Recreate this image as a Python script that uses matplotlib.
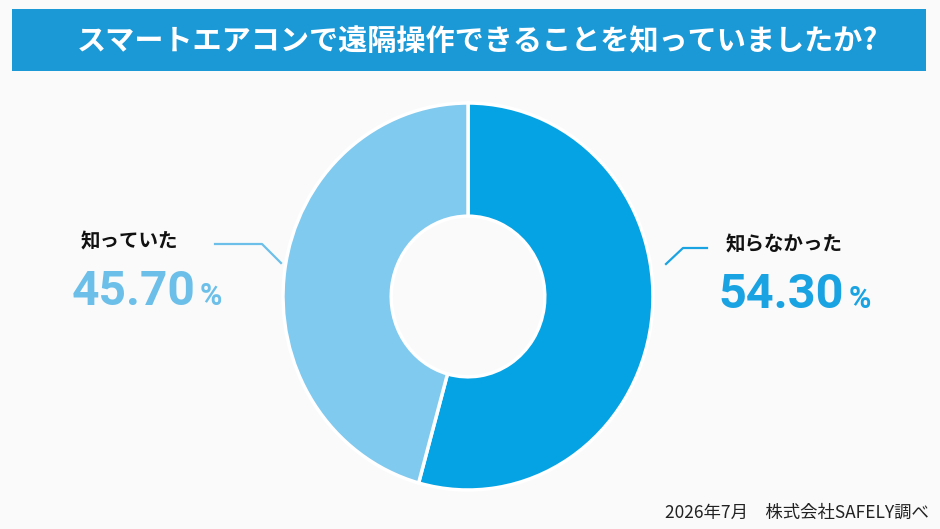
import matplotlib
matplotlib.use("Agg")
import matplotlib.pyplot as plt
from matplotlib.patches import Rectangle

plt.rcParams['font.family'] = ['Noto Sans CJK JP', 'DejaVu Sans']

title = "スマートエアコンで遠隔操作できることを知っていましたか?"
categories = ["知らなかった", "知っていた"]
values = [54.30, 45.70]
value_labels = ["54.30", "45.70"]
colors = ["#05a3e4", "#80c9ef"]
label_colors = ["#1aa3e3", "#6cbfe9"]
footer = "2026年7月　株式会社SAFELY調べ"

W, H = 940, 529
fig = plt.figure(figsize=(W / 100, H / 100), dpi=100, facecolor="#fafafa")

def fx(px):
    return px / W

def fy(py):
    return 1 - py / H

# title bar
fig.patches.append(Rectangle((fx(12), fy(71)), fx(926) - fx(12), fy(9) - fy(71),
                             transform=fig.transFigure, facecolor="#1b98d6",
                             edgecolor="none", zorder=0))
fig.text(fx(477), fy(41), title, color="white", fontsize=21, fontweight="bold",
         ha="center", va="center")

# donut
ax = fig.add_axes([fx(283), fy(490), fx(653) - fx(283), fy(103) - fy(490)])
ax.pie(values, colors=colors, startangle=90, counterclock=False,
       wedgeprops=dict(width=0.585, edgecolor="white", linewidth=2.5))
ax.set_aspect("auto")
ax.set_xlim(-1, 1)
ax.set_ylim(-1, 1)
ax.axis("off")

# leader lines
fig.add_artist(plt.Line2D([fx(215), fx(262), fx(281)], [fy(244), fy(244), fy(263)],
                          color=label_colors[1], lw=1.6, transform=fig.transFigure))
fig.add_artist(plt.Line2D([fx(666), fx(683), fx(707)], [fy(264), fy(248), fy(248)],
                          color=label_colors[0], lw=1.6, transform=fig.transFigure))

# left labels (知っていた)
fig.text(fx(81), fy(242), categories[1], fontsize=14, fontweight="bold",
         color="#111111", ha="left", va="center")
fig.text(fx(72), fy(305), value_labels[1], fontsize=34.5, fontweight="bold",
         family="Roboto", color=label_colors[1], ha="left", va="baseline")
fig.text(fx(200), fy(305), "%", fontsize=22, fontweight="bold", family="Roboto",
         color=label_colors[1], ha="left", va="baseline")

# right labels (知らなかった)
fig.text(fx(726), fy(245), categories[0], fontsize=14, fontweight="bold",
         color="#111111", ha="left", va="center")
fig.text(fx(718), fy(308), value_labels[0], fontsize=35, fontweight="bold",
         family="Roboto", color=label_colors[0], ha="left", va="baseline")
fig.text(fx(849), fy(308), "%", fontsize=22, fontweight="bold", family="Roboto",
         color=label_colors[0], ha="left", va="baseline")

# footer
fig.text(fx(929), fy(513), footer, fontsize=12.5, color="#222222",
         ha="right", va="center")

fig.savefig("out.png", dpi=100, facecolor=fig.get_facecolor())
